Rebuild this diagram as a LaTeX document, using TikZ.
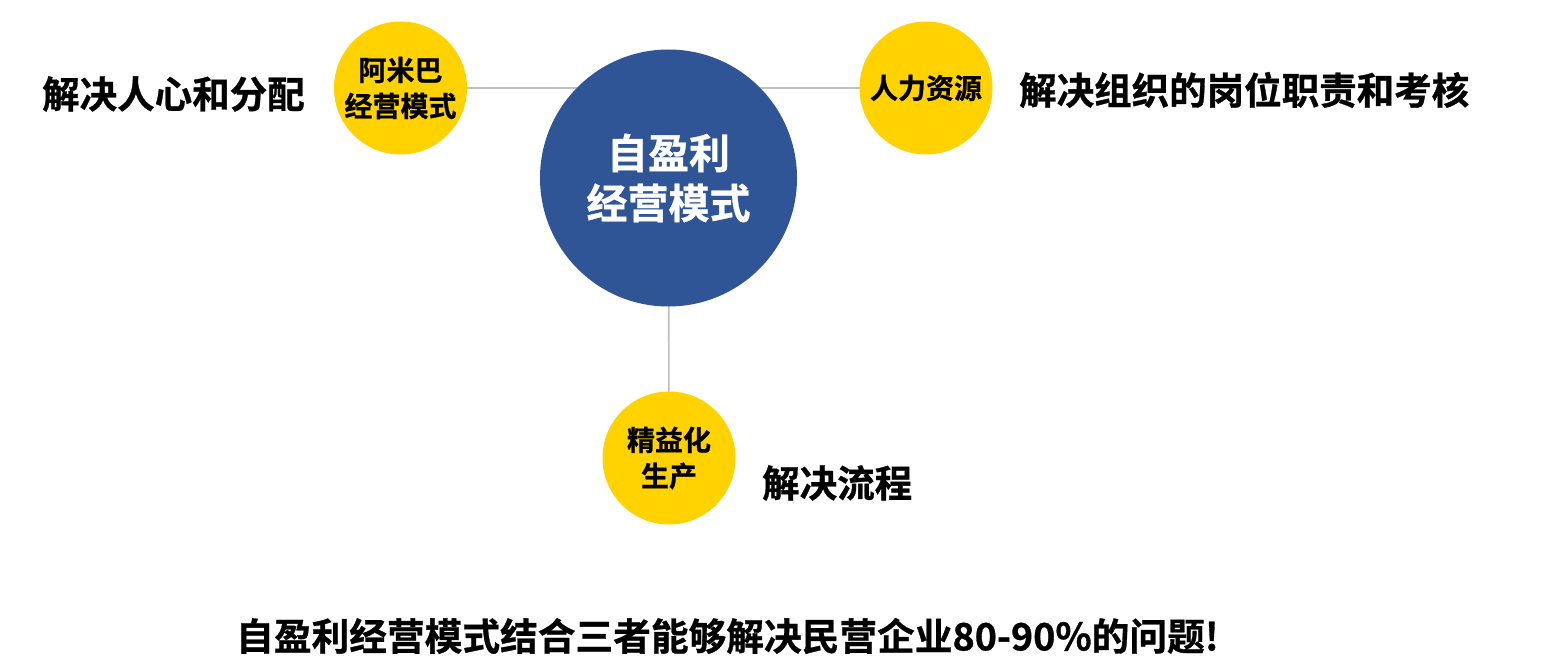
\documentclass[tikz,border=0pt]{standalone}
\usepackage{fontspec}
\newfontfamily\cjk{Noto Sans CJK SC}[BoldFont={Noto Sans CJK SC Bold},BoldFeatures={FakeBold=0.8}]
\definecolor{hubblue}{HTML}{2F5597}
\definecolor{goldy}{HTML}{FFD200}
\definecolor{linegray}{HTML}{BFBFBF}
\begin{document}
\begin{tikzpicture}[x=1pt,y=-1pt,
  hub/.style={circle,fill=hubblue,minimum size=257pt,inner sep=0pt,text=white,align=center,
    font=\cjk\bfseries\fontsize{41}{50}\selectfont},
  sat/.style={circle,fill=goldy,minimum size=133pt,inner sep=0pt,text=black,align=center,
    font=\cjk\bfseries\fontsize{28}{36}\selectfont},
  note/.style={anchor=west,inner sep=0pt,text=black,font=\cjk\bfseries\fontsize{37.5}{44}\selectfont},
  link/.style={draw=linegray,line width=1.6pt}]
\useasboundingbox (0,0) rectangle (1543,669);
\fill[white] (0,0) rectangle (1543,669);
% connectors first (behind circles)
\coordinate (hc) at (668.5,178);
\coordinate (lc) at (400.5,88);
\coordinate (rc) at (926,88);
\coordinate (bc) at (669,458);
\draw[link] (lc) -- (hc |- lc);
\draw[link] (rc) -- (hc |- rc);
\draw[link] (hc) -- (bc);
\node[hub] (hub) at (hc) {自盈利\\经营模式};
\node[sat] (amoeba) at (lc) {阿米巴\\经营模式};
\node[sat] (hr) at (rc) {人力资源};
\node[sat] (lean) at (bc) {精益化\\生产};
\node[note] (t1) at (42,94) {解决人心和分配};
\node[note] (t2) at (1019,90) {解决组织的岗位职责和考核};
\node[note] (t3) at (762,483) {解决流程};
\node[note,font=\cjk\bfseries\fontsize{37.7}{44}\selectfont] (t4) at (236,636) {自盈利经营模式结合三者能够解决民营企业80-90\%的问题!};
\end{tikzpicture}
\end{document}
